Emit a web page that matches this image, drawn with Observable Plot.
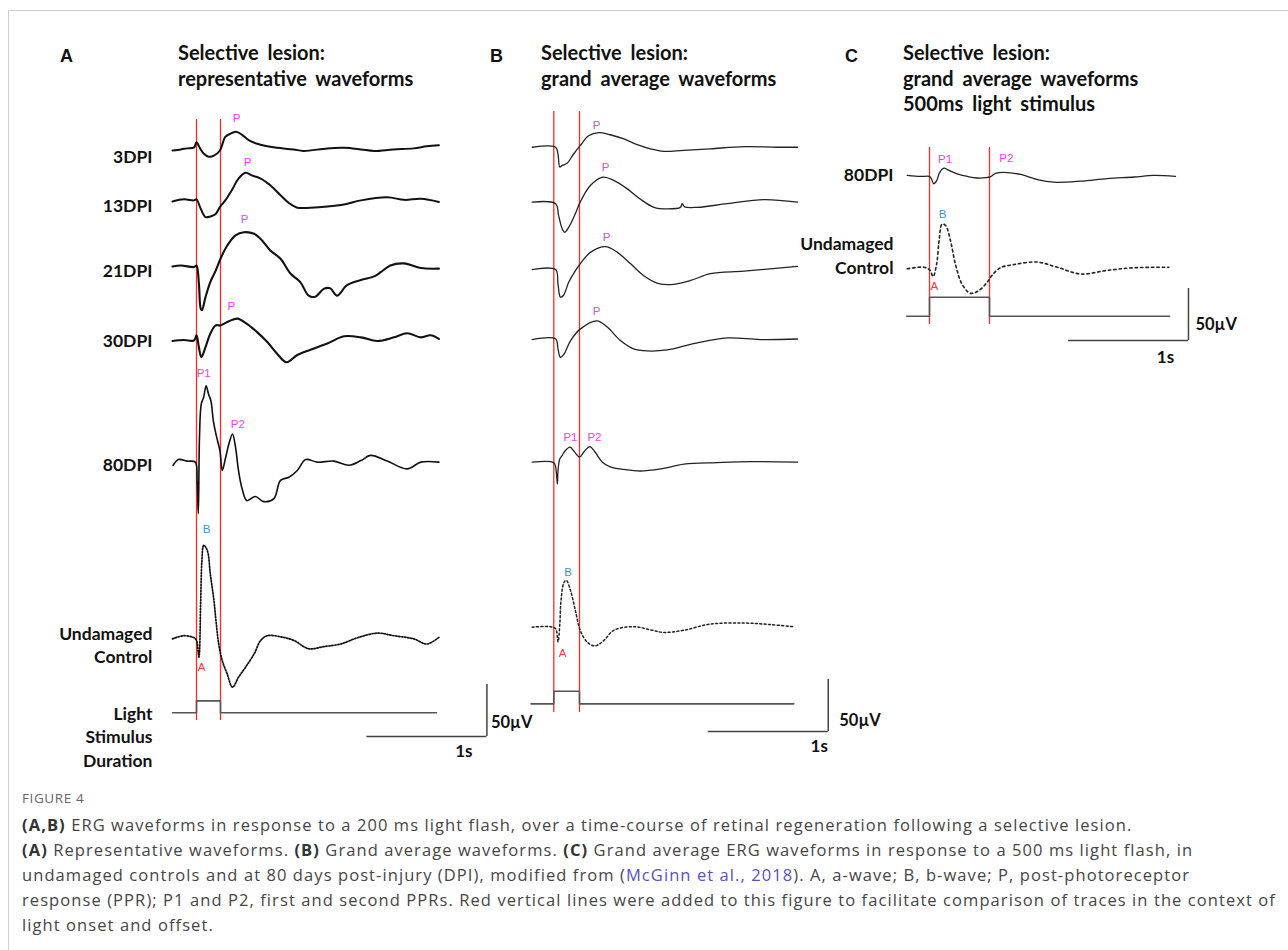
<!DOCTYPE html>
<html><head><meta charset="utf-8">
<script src="https://cdn.jsdelivr.net/npm/d3@7"></script>
<script src="https://cdn.jsdelivr.net/npm/@observablehq/plot@0.6"></script>
<style>
html,body{margin:0;padding:0;background:#fff}
body{width:1288px;height:950px;overflow:hidden;position:relative}
#frame{position:absolute;left:8px;top:10px;width:1400px;height:1100px;border-left:1px solid #cfcfcf;border-top:1px solid #cfcfcf}
.layer{position:absolute;left:0;top:0;width:1288px;height:775px}
.layer svg{background:transparent!important;overflow:visible}
.letter{position:absolute;font-family:"Liberation Sans",Arial,sans-serif;font-weight:bold;font-size:18px;color:#111}
.title{position:absolute;font-family:Lato,sans-serif;font-weight:bold;font-size:20px;line-height:25.5px;color:#111;white-space:nowrap;word-spacing:4px}
#cap{position:absolute;left:22px;top:786px;font-family:"Open Sans",sans-serif;color:#454545;white-space:nowrap}
#cap .fig{font-size:13.5px;color:#666;letter-spacing:0.6px;height:26px;line-height:24px}
#cap .l{font-size:16.5px;line-height:25px;height:25px}
#cap .l span.w{display:inline-block}
#cap b{font-weight:bold;color:#333}
#cap .lk{color:#5b4fc4}
</style></head>
<body>
<div id="frame"></div>
<div class="letter" style="left:60px;top:46px">A</div>
<div class="letter" style="left:490px;top:46px">B</div>
<div class="letter" style="left:845px;top:46px">C</div>
<div class="title" style="left:178px;top:40px">Selective lesion:<br>representative waveforms</div>
<div class="title" style="left:541px;top:40px">Selective lesion:<br>grand average waveforms</div>
<div class="title" style="left:903px;top:40px">Selective lesion:<br>grand average waveforms<br>500ms light stimulus</div>
<div id="pA" class="layer"></div>
<div id="pB" class="layer"></div>
<div id="pC" class="layer"></div>
<div id="cap">
<div class="fig">FIGURE 4</div>
<div class="l"><span class="w"><b>(A,B)</b> ERG waveforms in response to a 200 ms light flash, over a time-course of retinal regeneration following a selective lesion.</span></div>
<div class="l"><span class="w"><b>(A)</b> Representative waveforms. <b>(B)</b> Grand average waveforms. <b>(C)</b> Grand average ERG waveforms in response to a 500 ms light flash, in</span></div>
<div class="l"><span class="w">undamaged controls and at 80 days post-injury (DPI), modified from (<span class="lk">McGinn et al., 2018</span>). A, a-wave; B, b-wave; P, post-photoreceptor</span></div>
<div class="l"><span class="w" id="refline">response (PPR); P1 and P2, first and second PPRs. Red vertical lines were added to this figure to facilitate comparison of traces in the context of</span></div>
<div class="l"><span class="w">light onset and offset.</span></div>
</div>
<script>
// ---------- DATA: [time (s, 0 = light onset), amplitude (µV)] ----------
// Panel A: representative waveforms
const a3dpi = [[-0.20,-1],[-0.13,0],[-0.08,1],[-0.02,2],[0,7],[0.03,1],[0.06,-4],[0.10,-7],[0.145,-6],[0.195,-1],[0.24,12],[0.28,15],[0.33,17],[0.38,14],[0.435,9],[0.505,5.5],[0.59,3],[0.67,1.5],[0.81,0],[0.89,-1.5],[1.09,1],[1.23,1.5],[1.37,0],[1.48,-1.5],[1.64,0],[1.81,1],[1.92,3],[2.02,4]];
const a13dpi = [[-0.20,-1],[-0.105,1],[-0.02,0],[0,1],[0.035,-8],[0.075,-16],[0.115,-15.5],[0.16,-13],[0.195,-6.5],[0.24,0],[0.30,11],[0.35,21],[0.41,26.5],[0.46,24],[0.535,21],[0.615,14.5],[0.70,5],[0.77,-2.5],[0.84,-7],[0.95,-7],[1.09,-6],[1.23,-4],[1.37,0],[1.59,3],[1.73,0.5],[1.87,1.5],[2.02,-1.5]];
const a21dpi = [[-0.20,0],[-0.13,1],[-0.02,-0.5],[0,1],[0.02,-16.5],[0.035,-40.5],[0.045,-42],[0.075,-29.5],[0.115,-15],[0.16,-4],[0.20,7.5],[0.255,20],[0.325,30],[0.395,33],[0.48,31.5],[0.535,26.5],[0.615,15.5],[0.70,7.5],[0.785,-7],[0.865,-15],[0.935,-28],[0.99,-29],[1.06,-21.5],[1.115,-21],[1.17,-28],[1.255,-18],[1.37,-13],[1.48,-9.5],[1.535,-5.5],[1.615,1],[1.73,3],[1.87,-1.5],[2.02,-2]];
const a30dpi = [[-0.20,-0.5],[-0.105,0.5],[-0.02,0],[0,5],[0.02,-6.5],[0.04,-16],[0.075,-6.5],[0.115,6.5],[0.16,14.5],[0.20,14.5],[0.27,18.5],[0.34,21],[0.42,16],[0.505,8],[0.59,-1.5],[0.67,-12.5],[0.75,-21],[0.84,-14],[0.95,-9],[1.09,-3],[1.23,4],[1.37,3],[1.505,-0.5],[1.645,3],[1.755,7],[1.87,3],[1.95,5],[2.02,1.5]];
const a80dpi = [[-0.195,-3],[-0.15,2.5],[-0.08,1],[-0.01,0],[0.005,-17.5],[0.015,-49.5],[0.025,24],[0.04,56],[0.06,62.5],[0.08,73.5],[0.10,65.5],[0.12,59],[0.14,40],[0.165,25.5],[0.195,11],[0.215,-8],[0.24,3],[0.27,17.5],[0.30,27],[0.325,14.5],[0.35,-8],[0.38,-25.5],[0.42,-37],[0.49,-33],[0.56,-38],[0.645,-35],[0.70,-17.5],[0.77,-14.5],[0.84,-8],[0.91,2.5],[1.005,0],[1.145,1],[1.27,-3],[1.37,1.5],[1.45,6.5],[1.59,1],[1.755,-6.5],[1.87,0],[2.02,0]];
const aControl = [[-0.20,-1],[-0.105,2],[-0.02,0],[0,-2.5],[0.02,-18.5],[0.035,36],[0.045,74],[0.06,89],[0.09,84],[0.115,61.5],[0.145,36],[0.165,13.5],[0.185,-6],[0.215,-22],[0.255,-34.5],[0.30,-47.5],[0.35,-38],[0.41,-28],[0.48,-15.5],[0.535,-2.5],[0.59,2],[0.70,1],[0.81,-2.5],[0.935,-10.5],[1.06,-8.5],[1.20,-6],[1.34,0],[1.505,4.5],[1.645,2],[1.81,-1],[1.92,-6],[2.02,0.5]];
const aStim = {start:-0.20, on:0, off:0.20, end:2.0};

// Panel B: grand average waveforms
const b3dpi = [[-0.18,0],[0.015,0],[0.035,-6.5],[0.05,-19],[0.07,-17.5],[0.11,-15.5],[0.165,-6.5],[0.22,1.5],[0.29,11],[0.375,14],[0.47,12],[0.585,8],[0.695,2.5],[0.805,-1.5],[0.915,-4],[1.08,-3],[1.305,-1.5],[1.585,0.5],[1.86,0],[2.03,0]];
const b13dpi = [[-0.18,0],[0.015,-1.5],[0.04,-13],[0.07,-25.5],[0.09,-29],[0.125,-24],[0.18,-11],[0.22,0],[0.305,16],[0.41,24],[0.50,21],[0.61,13],[0.72,3],[0.835,-5],[0.945,-6.5],[1.055,-5],[1.07,-1.5],[1.09,-4.5],[1.195,-5],[1.445,-1.5],[1.75,2.5],[2.03,0]];
const b21dpi = [[-0.18,0],[0.015,0],[0.035,-14],[0.055,-26.5],[0.08,-25],[0.125,-12],[0.18,-1],[0.22,5.5],[0.305,16.5],[0.43,22],[0.53,16.5],[0.64,5.5],[0.75,-6],[0.86,-13],[0.97,-14.5],[1.14,-10.5],[1.305,-4],[1.585,-1.5],[2.03,3]];
const b30dpi = [[-0.18,0],[0.015,0.5],[0.035,-9],[0.055,-17],[0.085,-14],[0.14,-1],[0.22,10],[0.36,18],[0.445,12],[0.555,-1],[0.665,-9],[0.78,-11],[0.945,-10],[1.165,-4],[1.445,1.5],[1.72,0],[2.03,0.5]];
const b80dpi = [[-0.18,0],[0,-0.5],[0.015,-4.5],[0.03,-21],[0.035,-8],[0.05,3],[0.07,6.5],[0.095,11],[0.135,14.5],[0.165,11],[0.215,5],[0.255,10.5],[0.30,15],[0.345,9.5],[0.405,0],[0.47,-4.5],[0.585,-7],[0.72,-8.5],[0.89,-6.5],[1.085,-2],[1.36,-0.5],[1.64,0.5],[2.03,0]];
const bControl = [[-0.18,0],[-0.03,0.5],[0.015,-1.5],[0.035,-14],[0.05,3],[0.06,25.5],[0.085,43],[0.105,45],[0.14,35],[0.18,16],[0.22,-3],[0.28,-14.5],[0.345,-18],[0.415,-13],[0.50,-3],[0.665,0.5],[0.805,-2.5],[0.915,-5],[1.08,-3],[1.305,3],[1.585,4],[1.805,2.5],[1.995,0.5]];
const bStim = {start:-0.19, on:0, off:0.214, end:2.0};

// Panel C: grand average, 500 ms stimulus
const c80dpi = [[-0.185,1],[-0.075,0],[0,0],[0.015,-2],[0.035,-7],[0.06,-4],[0.085,4],[0.12,8],[0.16,6],[0.23,2.5],[0.315,0],[0.395,-1.5],[0.505,-0.5],[0.55,3],[0.62,4],[0.76,2],[0.90,-3],[1.035,-5.5],[1.26,-4.5],[1.48,-2],[1.705,-0.5],[1.87,1],[2.05,0]];
const cControl = [[-0.185,-1],[-0.045,0.5],[0.005,-2.5],[0.03,-8.5],[0.06,4],[0.08,26],[0.105,42],[0.135,40.5],[0.175,26],[0.215,4],[0.27,-15.5],[0.34,-24.5],[0.41,-22],[0.48,-14],[0.52,-7.5],[0.59,0],[0.70,3],[0.895,5.5],[1.065,0.5],[1.26,-6],[1.48,-2.5],[1.705,0],[1.995,0.5]];
const cStim = {start:-0.19, on:0, off:0.5, end:2.0};

// Row labels
const labelsA = ["3DPI","13DPI","21DPI","30DPI","80DPI","Undamaged\nControl","Light\nStimulus\nDuration"];
const labelsC = ["80DPI","Undamaged\nControl"];
// Peak annotations: [label, trace, time (s), kind]
const notesA = [["P","3DPI",0.333,"P"],["P","13DPI",0.425,"P"],["P","21DPI",0.40,"P"],["P","30DPI",0.29,"P"],["P1","80DPI",0.06,"P"],["P2","80DPI",0.345,"P"],["B","Control",0.083,"B"],["A","Control",0.042,"A"]];
const notesB = [["P","3DPI",0.356,"P"],["P","13DPI",0.431,"P"],["P","21DPI",0.44,"P"],["P","30DPI",0.356,"P"],["P1","80DPI",0.139,"P"],["P2","80DPI",0.339,"P"],["B","Control",0.12,"B"],["A","Control",0.073,"A"]];
const notesC = [["P1","80DPI",0.13,"P"],["P2","80DPI",0.64,"P"],["B","Control",0.108,"B"],["A","Control",0.04,"A"]];
// Scale bars: 1 s and 50 µV
const scaleTime = 1, scaleVolt = 50;

// ---------- LAYOUT ----------
const H = 775;
const noteColor = {P:"#f23cf2", B:"#3d8fe0", A:"#ff3535"};

function panel(cfg) {
  const byName = {};
  cfg.traces.forEach(t => byName[t.name] = t);
  const marks = [];
  marks.push(Plot.ruleX([cfg.stim.on, cfg.stim.off], {y1: cfg.red[0], y2: cfg.red[1], stroke: "#ff2b2b", strokeWidth: 1.3}));
  for (const tr of cfg.traces) {
    marks.push(Plot.line(tr.data, {x: d => d[0], y: d => d[1] + tr.offset, stroke: tr.color || "#111",
      strokeWidth: tr.width || 1.3, strokeDasharray: tr.dash || null, curve: "catmull-rom", strokeLinejoin: "round"}));
  }
  const s = cfg.stim;
  const stimPts = [[s.start,0],[s.on,0],[s.on,1],[s.off,1],[s.off,0],[s.end,0]];
  marks.push(Plot.line(stimPts, {x: d => d[0], y: d => cfg.stimOffset + d[1] * cfg.stimHeight, stroke: "#555", strokeWidth: 1.6}));
  cfg.labels.forEach((lab, i) => {
    const L = cfg.labelPos[i];
    marks.push(Plot.text([lab], {x: cfg.labelT, y: L[0], dy: L[1], text: d => d, textAnchor: "end",
      fontFamily: "Lato", fontWeight: "bold", fontSize: 17.5, lineHeight: 1.36, fill: "#111"}));
  });
  for (const [lab, name, t, kind] of cfg.notes) {
    const tr = byName[name];
    const win = tr.data.filter(d => Math.abs(d[0] - t) <= 0.06);
    const v = kind === "A" ? d3.min(win, d => d[1]) : d3.max(win, d => d[1]);
    const dy = cfg.noteDy[lab + name] ?? (kind === "A" ? 10 : -11);
    marks.push(Plot.text([lab], {x: t, y: v + tr.offset, dy, text: d => d, fill: noteColor[kind],
      fontFamily: "Liberation Sans", fontSize: 11.5}));
  }
  const b = cfg.bar;
  marks.push(Plot.ruleY([b.v0], {x1: b.t0, x2: b.t0 + scaleTime, stroke: "#444", strokeWidth: 1.5}));
  marks.push(Plot.ruleX([b.t0 + scaleTime], {y1: b.v0, y2: b.v0 + scaleVolt, stroke: "#444", strokeWidth: 1.5}));
  marks.push(Plot.text(["1s"], {x: b.t0 + scaleTime, y: b.v0, dx: b.sdx, dy: b.sdy, text: d => d, fontFamily: "Lato", fontWeight: "bold", fontSize: 17, fill: "#111"}));
  marks.push(Plot.text(["50µV"], {x: b.t0 + scaleTime, y: b.v0, dx: b.vdx, dy: b.vdy, text: d => d, textAnchor: "start", fontFamily: "Lato", fontWeight: "bold", fontSize: 16.5, fill: "#111"}));
  return Plot.plot({
    width: 1288, height: H, margin: 0,
    x: {domain: [0, 1], range: [cfg.onsetPx, cfg.onsetPx + 120], axis: null},
    y: {domain: [0, 50], range: [H, H - 52], axis: null},
    style: {background: "transparent", overflow: "visible"},
    marks
  });
}

const dashA = "1.4,1.6", dashB = "2,2.4", dashC = "2.4,3";
document.getElementById("pA").append(panel({
  onsetPx: 196,
  traces: [
    {name:"3DPI", data:a3dpi, offset:602, width:2},
    {name:"13DPI", data:a13dpi, offset:553, width:2},
    {name:"21DPI", data:a21dpi, offset:489.4, width:2.1},
    {name:"30DPI", data:a30dpi, offset:418.3, width:2.1},
    {name:"80DPI", data:a80dpi, offset:301.3, width:1.6},
    {name:"Control", data:aControl, offset:132.4, width:1.7, dash:dashA}
  ],
  stim: aStim, stimOffset: 60.3, stimHeight: 11.5,
  red: [52.9, 630.8],
  labels: labelsA, labelT: -0.367,
  labelPos: [[602,6],[553,4],[489.4,3],[418.3,-1],[301.3,1],[132.4,6],[60.3,23]],
  notes: notesA, noteDy: {"P3DPI":-13,"P13DPI":-11,"P21DPI":-13,"P30DPI":-12,"P180DPI":-12,"P280DPI":-10,"BControl":-16,"AControl":10},
  bar: {t0: 1.42, v0: 37.5, sdx: -23, sdy: 15, vdx: 4, vdy: -14}
}));
document.getElementById("pB").append(panel({
  onsetPx: 553.3,
  traces: [
    {name:"3DPI", data:b3dpi, offset:604.1, width:1.3, color:"#222"},
    {name:"13DPI", data:b13dpi, offset:551.3, width:1.3, color:"#222"},
    {name:"21DPI", data:b21dpi, offset:486.5, width:1.3, color:"#222"},
    {name:"30DPI", data:b30dpi, offset:419.2, width:1.3, color:"#222"},
    {name:"80DPI", data:b80dpi, offset:301.3, width:1.3, color:"#222"},
    {name:"Control", data:bControl, offset:142.6, width:1.5, dash:dashB, color:"#222"}
  ],
  stim: bStim, stimOffset: 68.9, stimHeight: 12.1,
  red: [60.6, 638.5],
  labels: [], labelT: 0, labelPos: [],
  notes: notesB, noteDy: {"P3DPI":-7,"P13DPI":-10,"P21DPI":-9,"P30DPI":-9,"P180DPI":-10,"P280DPI":-9,"BControl":-8,"AControl":12},
  bar: {t0: 1.287, v0: 42.3, sdx: -9, sdy: 15, vdx: 11, vdy: -11}
}));
document.getElementById("pC").append(panel({
  onsetPx: 929,
  traces: [
    {name:"80DPI", data:c80dpi, offset:576, width:1.3, color:"#222"},
    {name:"Control", data:cControl, offset:488.2, width:1.6, dash:dashC, color:"#222"}
  ],
  stim: cStim, stimOffset: 441.6, stimHeight: 18.3,
  red: [433.7, 603.8],
  labels: labelsC, labelT: -0.30,
  labelPos: [[576,-3],[488.2,-13]],
  notes: notesC, noteDy: {"P180DPI":-9,"P280DPI":-14,"BControl":-10,"AControl":10},
  bar: {t0: 1.158, v0: 418.3, sdx: -23, sdy: 17, vdx: 7, vdy: -16}
}));

// uniform letter-spacing so that the longest caption line matches the reference (ends near x = 1276)
function fitCaption() {
  const spans = document.querySelectorAll("#cap span.w");
  spans.forEach(el => el.style.letterSpacing = "0px");
  const ref = document.getElementById("refline");
  const ls = (1254 - ref.getBoundingClientRect().width) / ref.textContent.length;
  spans.forEach(el => el.style.letterSpacing = ls + "px");
}
fitCaption();
if (document.fonts && document.fonts.ready) document.fonts.ready.then(fitCaption);
</script>
</body></html>
